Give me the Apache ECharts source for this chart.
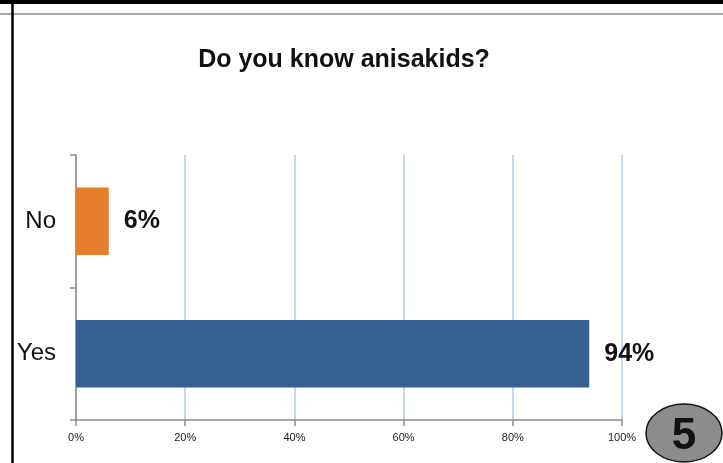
<!DOCTYPE html>
<html>
<head>
<meta charset="utf-8">
<script src="https://cdn.jsdelivr.net/npm/echarts@6/dist/echarts.min.js"></script>
<style>
  html, body { margin: 0; padding: 0; background: #fff; }
  #chart { width: 723px; height: 463px; }
</style>
</head>
<body>
<div id="chart"></div>
<script>
const categories = ["Yes", "No"];
const values = [94, 6];
const barColors = ["#366092", "#E57F2C"];
const xTicks = [0, 20, 40, 60, 80, 100];

const font = "'Liberation Sans Narrow', 'Liberation Sans', Arial, sans-serif";

const myChart = echarts.init(document.getElementById("chart"));
const option = {
  backgroundColor: "#ffffff",
  animation: false,
  title: {
    text: "Do you know anisakids?",
    left: 339,
    top: 43,
    textAlign: "center",
    textStyle: {
      fontFamily: font,
      fontSize: 25,
      fontWeight: "bold",
      color: "#111",
    },
  },
  grid: {
    left: 76,
    right: 101,
    top: 155,
    bottom: 43,
  },
  xAxis: {
    type: "value",
    min: xTicks[0],
    max: xTicks[xTicks.length - 1],
    interval: 20,
    axisLine: {
      show: true,
      lineStyle: { color: "#8c8c8c", width: 1.5 },
    },
    axisTick: {
      show: true,
      length: 6,
      lineStyle: { color: "#8c8c8c", width: 1.5 },
    },
    splitLine: {
      show: true,
      lineStyle: { color: "#c6d5ee", width: 2 },
    },
    axisLabel: {
      formatter: "{value}%",
      margin: 12,
      fontFamily: font,
      fontSize: 11,
      color: "#222",
    },
  },
  yAxis: {
    type: "category",
    data: categories,
    axisLine: {
      show: true,
      lineStyle: { color: "#8c8c8c", width: 1.5 },
    },
    axisTick: {
      show: true,
      length: 6,
      lineStyle: { color: "#8c8c8c", width: 1.5 },
    },
    axisLabel: {
      margin: 20,
      fontFamily: font,
      fontSize: 24,
      color: "#111",
    },
  },
  series: [
    {
      type: "bar",
      barWidth: "51%",
      data: values.map((v, i) => ({
        value: v,
        itemStyle: { color: barColors[i] },
      })),
      label: {
        show: true,
        position: "right",
        distance: 15,
        formatter: "{c}%",
        fontFamily: font,
        fontSize: 25,
        fontWeight: "bold",
        color: "#111",
      },
    },
  ],
  graphic: [
    { type: "rect", shape: { x: 0, y: 0, width: 723, height: 4 }, style: { fill: "#000" } },
    { type: "line", shape: { x1: 0, y1: 14, x2: 723, y2: 14 }, style: { stroke: "#8a8a8a", lineWidth: 1.5 } },
    { type: "line", shape: { x1: 12.5, y1: 0, x2: 12.5, y2: 463 }, style: { stroke: "#000", lineWidth: 2.5 } },
    {
      type: "ellipse",
      shape: { cx: 684, cy: 433, rx: 38, ry: 29 },
      style: { fill: "#8c8c8c", stroke: "#111", lineWidth: 1.5 },
    },
    {
      type: "text",
      x: 684,
      y: 437,
      style: {
        text: "5",
        fill: "#111",
        font: "bold 44px " + font,
        textAlign: "center",
        textVerticalAlign: "middle",
      },
    },
  ],
};
myChart.setOption(option);
</script>
</body>
</html>
